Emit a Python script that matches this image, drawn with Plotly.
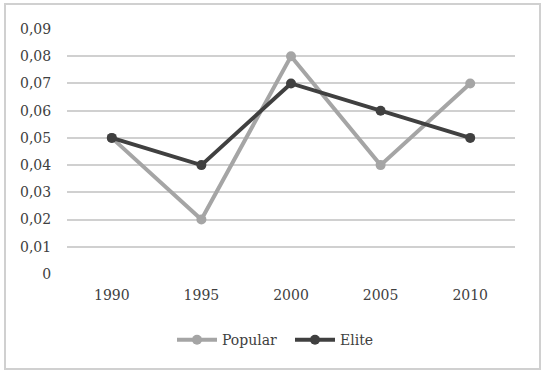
import plotly.graph_objects as go

years = ["1990", "1995", "2000", "2005", "2010"]
popular = [0.05, 0.02, 0.08, 0.04, 0.07]
elite = [0.05, 0.04, 0.07, 0.06, 0.05]
y_ticks = [0, 0.01, 0.02, 0.03, 0.04, 0.05, 0.06, 0.07, 0.08, 0.09]
y_tick_labels = ["0", "0,01", "0,02", "0,03", "0,04", "0,05", "0,06", "0,07", "0,08", "0,09"]

font_family = "DejaVu Serif, Liberation Serif, serif"
text_color = "#404040"

fig = go.Figure()
fig.add_trace(go.Scatter(x=years, y=popular, name="Popular", mode="lines+markers",
                         line=dict(color="#a5a5a5", width=4),
                         marker=dict(color="#a5a5a5", size=10)))
fig.add_trace(go.Scatter(x=years, y=elite, name="Elite", mode="lines+markers",
                         line=dict(color="#404040", width=4),
                         marker=dict(color="#404040", size=10)))

fig.update_layout(
    width=547, height=375,
    margin=dict(l=67, r=32, t=29, b=101),
    paper_bgcolor="white", plot_bgcolor="white",
    font=dict(family=font_family, size=14, color=text_color),
    showlegend=True,
    legend=dict(orientation="h", x=(172 - 67) / 448, xanchor="left", y=-0.27, yanchor="middle",
                font=dict(size=14, color=text_color), itemwidth=40,
                entrywidth=63, entrywidthmode="pixels"),
    xaxis=dict(type="category", range=[-0.5, 4.5], showgrid=False, showline=False, zeroline=False,
               ticks="outside", ticklen=8, tickcolor="rgba(0,0,0,0)"),
    yaxis=dict(range=[0, 0.09], tickvals=y_ticks, ticktext=y_tick_labels,
               showgrid=True, gridcolor="#d0d0d0", gridwidth=1.5, zeroline=False,
               showline=False, ticks="outside", ticklen=12, tickcolor="rgba(0,0,0,0)"),
    shapes=[dict(type="rect", xref="paper", yref="paper",
                 x0=-62/448, x1=(540-67)/448, y0=-(369-274)/245, y1=(274-4)/245,
                 line=dict(color="#d0d0d0", width=2), layer="below")],
)

fig.write_html("out.html", config={"displayModeBar": False},
               post_script="document.body.style.margin='0';document.body.style.overflow='hidden';")
